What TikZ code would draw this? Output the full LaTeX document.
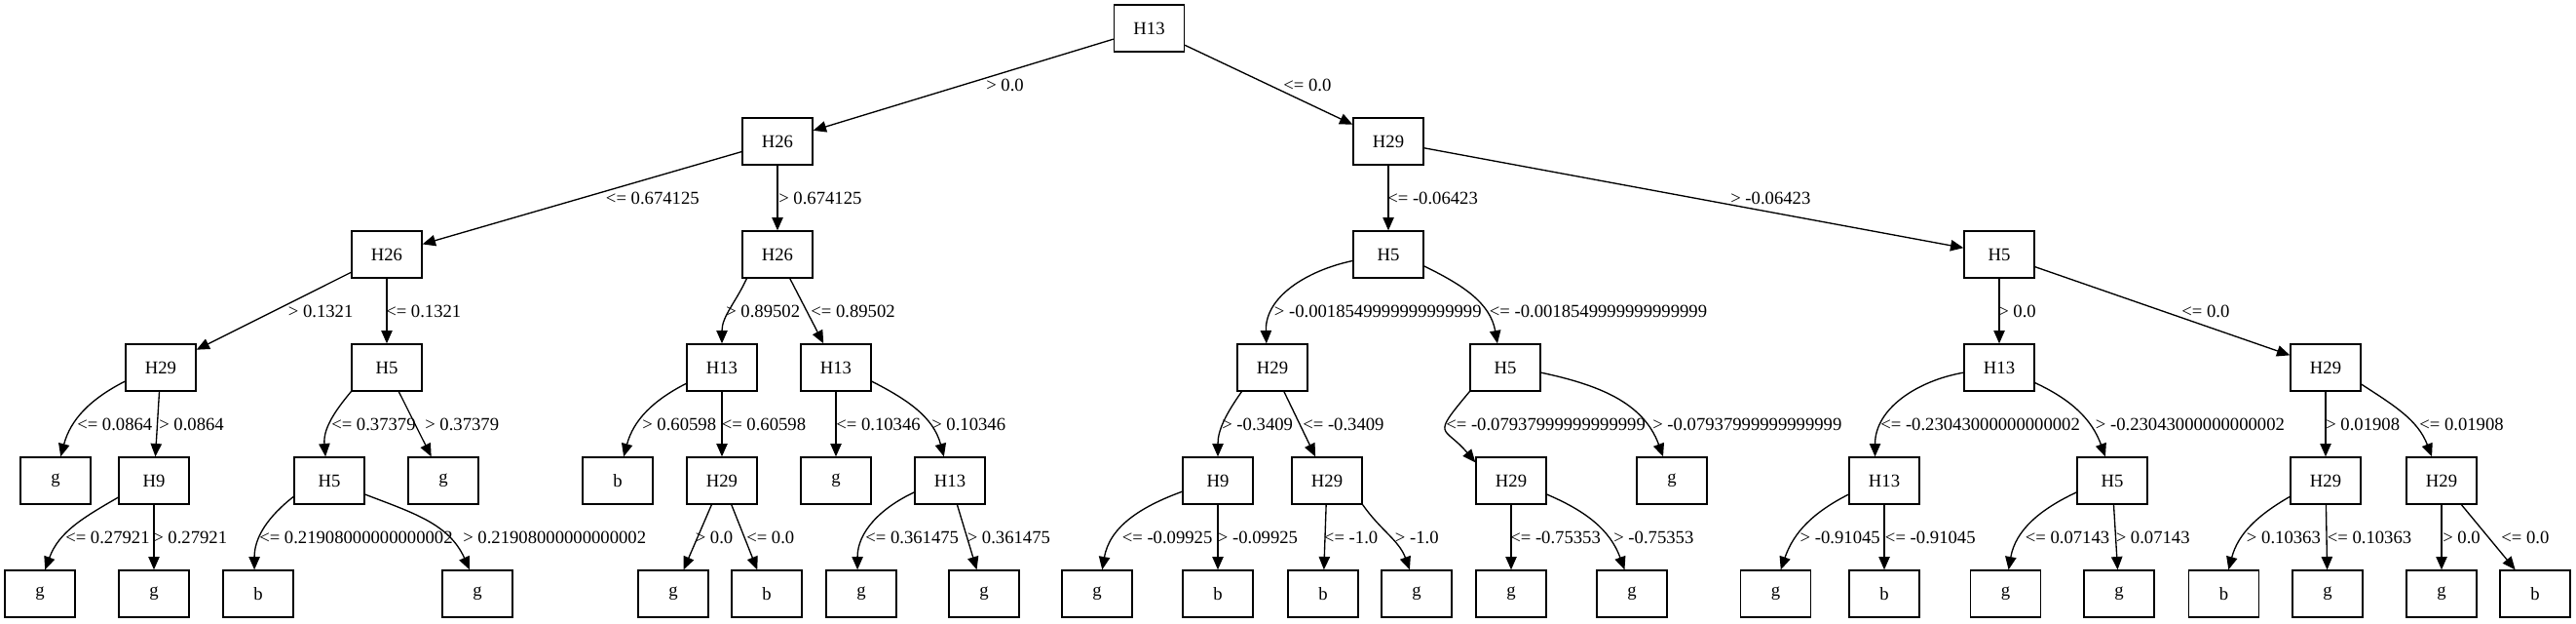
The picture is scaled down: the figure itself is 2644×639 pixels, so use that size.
\documentclass[tikz,border=0pt]{standalone}
\usepackage{fontspec}
\setmainfont{Liberation Serif}
\usetikzlibrary{arrows.meta}

\begin{document}
\begin{tikzpicture}
  [x=0.75pt, y=0.75pt,
   box/.style={shape=rectangle, draw=black, line width=1pt, minimum width=54pt, minimum height=36pt, inner sep=0pt, font=\fontsize{14pt}{16pt}\selectfont},
   lbl/.style={anchor=west, inner sep=0pt, font=\fontsize{14pt}{16pt}\selectfont},
   link/.style={-{Triangle[length=10pt, width=8.5pt]}, line width=1pt}]
  \useasboundingbox (0, 0) rectangle (2644, -639);
  % splits
  \node (n1) [box] at (1179.5, -29) {H13};
  \node (n2) [box] at (798, -145) {H26};
  \node (n3) [box] at (1425, -145) {H29};
  \node (n4) [box] at (397, -261) {H26};
  \node (n5) [box] at (798, -261) {H26};
  \node (n6) [box] at (1425, -261) {H5};
  \node (n7) [box] at (2052, -261) {H5};
  \node (n8) [box] at (165, -377) {H29};
  \node (n9) [box] at (397, -377) {H5};
  \node (n10) [box] at (741, -377) {H13};
  \node (n11) [box] at (858, -377) {H13};
  \node (n12) [box] at (1306, -377) {H29};
  \node (n13) [box] at (1545, -377) {H5};
  \node (n14) [box] at (2052, -377) {H13};
  \node (n15) [box] at (2387, -377) {H29};
  \node (n16) [box] at (57, -493) {g};
  \node (n17) [box] at (158, -493) {H9};
  \node (n18) [box] at (338, -493) {H5};
  \node (n19) [box] at (455, -493) {g};
  \node (n20) [box] at (634, -493) {b};
  \node (n21) [box] at (741, -493) {H29};
  \node (n22) [box] at (858, -493) {g};
  \node (n23) [box] at (975, -493) {H13};
  \node (n24) [box] at (1250, -493) {H9};
  \node (n25) [box] at (1362, -493) {H29};
  \node (n26) [box] at (1551, -493) {H29};
  \node (n27) [box] at (1716, -493) {g};
  \node (n28) [box] at (1934, -493) {H13};
  \node (n29) [box] at (2168, -493) {H5};
  \node (n30) [box] at (2387, -493) {H29};
  \node (n31) [box] at (2506, -493) {H29};
  % leaves
  \node (n32) [box] at (41, -609) {g};
  \node (n33) [box] at (158, -609) {g};
  \node (n34) [box] at (265, -609) {b};
  \node (n35) [box] at (490, -609) {g};
  \node (n36) [box] at (691, -609) {g};
  \node (n37) [box] at (787, -609) {b};
  \node (n38) [box] at (884, -609) {g};
  \node (n39) [box] at (1010, -609) {g};
  \node (n40) [box] at (1126, -609) {g};
  \node (n41) [box] at (1250, -609) {b};
  \node (n42) [box] at (1358, -609) {b};
  \node (n43) [box] at (1454, -609) {g};
  \node (n44) [box] at (1551, -609) {g};
  \node (n45) [box] at (1675, -609) {g};
  \node (n46) [box] at (1822.5, -609) {g};
  \node (n47) [box] at (1934, -609) {b};
  \node (n48) [box] at (2058.5, -609) {g};
  \node (n49) [box] at (2175, -609) {g};
  \node (n50) [box] at (2282.5, -609) {b};
  \node (n51) [box] at (2389, -609) {g};
  \node (n52) [box] at (2506, -609) {g};
  \node (n53) [box] at (2602, -609) {b};
  % edges
  \draw [link] (n1) -- (n2);
  \draw [link] (n1) -- (n3);
  \draw [link] (n2) -- (n4);
  \draw [link] (n2) -- (n5);
  \draw [link] (n3) -- (n6);
  \draw [link] (n3) -- (n7);
  \draw [link] (n4) -- (n8);
  \draw [link] (n4) -- (n9);
  \draw [link] (n5.218) to [out=245, in=90] (n10.north);
  \draw [link] (n5) -- (n11);
  \draw [link] (n6.190) to [out=192, in=92] (n12.104);
  \draw [link] (n6.342) to [out=334, in=100] (n13.108);
  \draw [link] (n7) -- (n14);
  \draw [link] (n7) -- (n15);
  \draw [link] (n8.201) to [out=207, in=75] (n16.78);
  \draw [link] (n8) -- (n17);
  \draw [link] (n9.south west) to [out=230, in=95] (n18.99);
  \draw [link] (n9) -- (n19);
  \draw [link] (n10.204) to [out=207, in=75] (n20.76);
  \draw [link] (n10) -- (n21);
  \draw [link] (n11) -- (n22);
  \draw [link] (n11.339) to [out=333, in=105] (n23.104);
  \draw [link] (n12.218) to [out=235, in=90] (n24.north);
  \draw [link] (n12) -- (n25);
  \draw [link] (n13.south west) .. controls +(230:63) and +(130:50) .. (n26.153);
  \draw [link] (n13.352) to [out=348, in=110] (n27.110);
  \draw [link] (n14.188) to [out=190, in=90] (n28.111);
  \draw [link] (n14.337) to [out=335, in=110] (n29.106);
  \draw [link] (n15) -- (n30);
  \draw [link] (n15.335) to [out=327, in=111] (n31.112);
  \draw [link] (n17.205) to [out=210, in=70] (n32.78);
  \draw [link] (n17) -- (n33);
  \draw [link] (n18.204) to [out=218, in=90] (n34.99);
  \draw [link] (n18.339) to [out=339, in=114] (n35.108);
  \draw [link] (n21) -- (n36);
  \draw [link] (n21) -- (n37);
  \draw [link] (n23.198) to [out=205, in=90] (n38.99);
  \draw [link] (n23) -- (n39);
  \draw [link] (n24.197) to [out=200, in=80] (n40.78);
  \draw [link] (n24) -- (n41);
  \draw [link] (n25) -- (n42);
  \draw [link] (n25.south east) to [out=305, in=110] (n43.106);
  \draw [link] (n26) -- (n44);
  \draw [link] (n26.339) to [out=337, in=110] (n45.107);
  \draw [link] (n28.201) to [out=207, in=71] (n46.78);
  \draw [link] (n28) -- (n47);
  \draw [link] (n29.198) to [out=205, in=80] (n48.83);
  \draw [link] (n29) -- (n49);
  \draw [link] (n30.204) to [out=210, in=75] (n50.79);
  \draw [link] (n30) -- (n51);
  \draw [link] (n31) -- (n52);
  \draw [link] (n31) -- (n53);
  % edge labels
  \node (l2) [lbl] at (1012, -87) {> 0.0};
  \node (l3) [lbl] at (1317, -87) {<= 0.0};
  \node (l4) [lbl] at (621.7, -203) {<= 0.674125};
  \node (l5) [lbl] at (799, -203) {> 0.674125};
  \node (l6) [lbl] at (1424, -203) {<= -0.06423};
  \node (l7) [lbl] at (1776, -203) {> -0.06423};
  \node (l8) [lbl] at (295.6, -319) {> 0.1321};
  \node (l9) [lbl] at (396, -319) {<= 0.1321};
  \node (l10) [lbl] at (745, -319) {> 0.89502};
  \node (l11) [lbl] at (832, -319) {<= 0.89502};
  \node (l12) [lbl] at (1307.6, -319) {> -0.0018549999999999999};
  \node (l13) [lbl] at (1528.6, -319) {<= -0.0018549999999999999};
  \node (l14) [lbl] at (2051, -319) {> 0.0};
  \node (l15) [lbl] at (2239, -319) {<= 0.0};
  \node (l16) [lbl] at (79, -435) {<= 0.0864};
  \node (l17) [lbl] at (163, -435) {> 0.0864};
  \node (l18) [lbl] at (340, -435) {<= 0.37379};
  \node (l19) [lbl] at (436, -435) {> 0.37379};
  \node (l20) [lbl] at (659, -435) {> 0.60598};
  \node (l21) [lbl] at (740.5, -435) {<= 0.60598};
  \node (l22) [lbl] at (858, -435) {<= 0.10346};
  \node (l23) [lbl] at (956, -435) {> 0.10346};
  \node (l24) [lbl] at (1254, -435) {> -0.3409};
  \node (l25) [lbl] at (1337, -435) {<= -0.3409};
  \node (l26) [lbl] at (1484, -435) {<= -0.07937999999999999};
  \node (l27) [lbl] at (1696, -435) {> -0.07937999999999999};
  \node (l28) [lbl] at (1930, -435) {<= -0.23043000000000002};
  \node (l29) [lbl] at (2150.6, -435) {> -0.23043000000000002};
  \node (l30) [lbl] at (2387, -435) {> 0.01908};
  \node (l31) [lbl] at (2483, -435) {<= 0.01908};
  \node (l32) [lbl] at (67, -551) {<= 0.27921};
  \node (l33) [lbl] at (157, -551) {> 0.27921};
  \node (l34) [lbl] at (266, -551) {<= 0.21908000000000002};
  \node (l35) [lbl] at (475, -551) {> 0.21908000000000002};
  \node (l36) [lbl] at (713.5, -551) {> 0.0};
  \node (l37) [lbl] at (766, -551) {<= 0.0};
  \node (l38) [lbl] at (888, -551) {<= 0.361475};
  \node (l39) [lbl] at (992.5, -551) {> 0.361475};
  \node (l40) [lbl] at (1151.5, -551) {<= -0.09925};
  \node (l41) [lbl] at (1249.7, -551) {> -0.09925};
  \node (l42) [lbl] at (1358.7, -551) {<= -1.0};
  \node (l43) [lbl] at (1431.6, -551) {> -1.0};
  \node (l44) [lbl] at (1550, -551) {<= -0.75353};
  \node (l45) [lbl] at (1656, -551) {> -0.75353};
  \node (l46) [lbl] at (1847.4, -551) {> -0.91045};
  \node (l47) [lbl] at (1934.7, -551) {<= -0.91045};
  \node (l48) [lbl] at (2078.5, -551) {<= 0.07143};
  \node (l49) [lbl] at (2171.5, -551) {> 0.07143};
  \node (l50) [lbl] at (2305.7, -551) {> 0.10363};
  \node (l51) [lbl] at (2388.5, -551) {<= 0.10363};
  \node (l52) [lbl] at (2507, -551) {> 0.0};
  \node (l53) [lbl] at (2567, -551) {<= 0.0};
\end{tikzpicture}
\end{document}
